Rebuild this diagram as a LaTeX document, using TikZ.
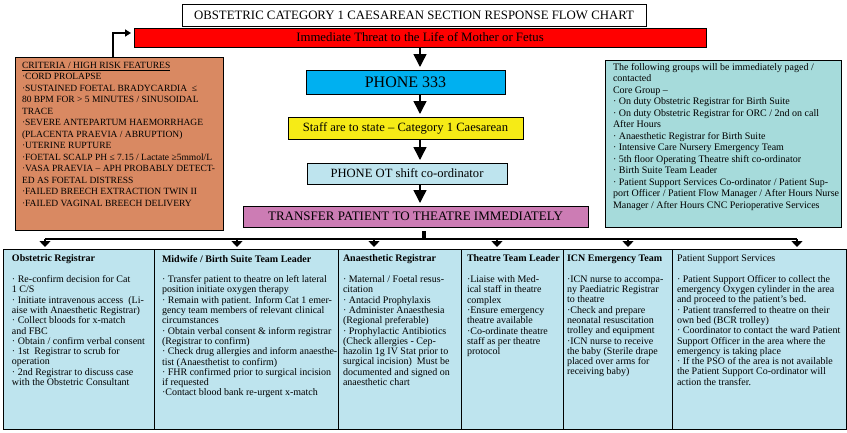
\documentclass[tikz,border=0pt]{standalone}
\usepackage{fontspec}
\setmainfont{Liberation Serif}
\usetikzlibrary{arrows.meta}
\definecolor{orangebox}{RGB}{217,137,98}
\definecolor{tealbox}{RGB}{166,219,219}
\definecolor{colblue}{RGB}{190,228,238}
\definecolor{phoneblue}{RGB}{0,176,240}
\definecolor{yellowbox}{RGB}{246,235,22}
\definecolor{pinkbox}{RGB}{204,124,180}
\definecolor{redbox}{RGB}{255,0,0}
\begin{document}
\begin{tikzpicture}[x=1pt,y=-1pt,
  box/.style={draw=black, line width=0.8pt, inner sep=0pt, outer sep=0pt, anchor=north west},
  txt/.style={inner sep=0pt, outer sep=0pt, anchor=north west, align=left},
  colfont/.style={font=\fontsize{10}{10.3}\selectfont},
  tealfont/.style={font=\fontsize{10}{11.5}\selectfont},
  arrbig/.style={line width=1.5pt, -{Triangle[width=13pt,length=13pt]}, shorten >=3pt},
  arrsmall/.style={line width=1.3pt, -{Triangle[width=11pt,length=6pt]}, shorten >=2pt},
  busline/.style={line width=1.3pt},
  stubline/.style={line width=4.5pt, shorten <=4pt}
]
\useasboundingbox (0,0) rectangle (847,432);
\fill[white] (0,0) rectangle (847,432);

% top boxes
\node[box, fill=white, minimum width=464pt, minimum height=22pt, font=\fontsize{12.8}{14}\selectfont] (title) at (182,4) {OBSTETRIC CATEGORY 1 CAESAREAN SECTION RESPONSE FLOW CHART};
\node[box, fill=redbox, minimum width=572pt, minimum height=19pt, font=\fontsize{12.8}{14}\selectfont] (red) at (134,28) {Immediate Threat to the Life of Mother or Fetus};

% centre chain
\node[box, fill=phoneblue, minimum width=199pt, minimum height=24pt, font=\fontsize{16}{18}\selectfont] (phone) at (306,70) {PHONE 333};
\node[box, fill=yellowbox, minimum width=235pt, minimum height=22pt, font=\fontsize{12.6}{14}\selectfont] (staff) at (288,117) {Staff are to state – Category 1 Caesarean};
\node[box, fill=colblue, minimum width=200pt, minimum height=21pt, font=\fontsize{12.6}{14}\selectfont] (ot) at (307,163) {PHONE OT shift co-ordinator};
\node[box, fill=pinkbox, minimum width=345pt, minimum height=21pt, font=\fontsize{13}{15}\selectfont] (transfer) at (243,206) {TRANSFER PATIENT TO THEATRE IMMEDIATELY};

% side boxes
\node[box, fill=orangebox, minimum width=208pt, minimum height=173pt] (orange) at (15,57) {};
\node[txt, font=\fontsize{9.5}{11.5}\selectfont] (orangetxt) at (22,62) {\underline{CRITERIA / HIGH RISK FEATURES}\\
·CORD PROLAPSE\\
·SUSTAINED FOETAL BRADYCARDIA \ ≤\\
80 BPM FOR > 5 MINUTES / SINUSOIDAL\\
TRACE\\
·SEVERE ANTEPARTUM HAEMORRHAGE\\
(PLACENTA PRAEVIA / ABRUPTION)\\
·UTERINE RUPTURE\\
·FOETAL SCALP PH ≤ 7.15 / Lactate ≥5mmol/L\\
·VASA PRAEVIA – APH PROBABLY DETECT-\\
ED AS FOETAL DISTRESS\\
·FAILED BREECH EXTRACTION TWIN II\\
·FAILED VAGINAL BREECH DELIVERY};

\node[box, fill=tealbox, minimum width=236pt, minimum height=167pt] (teal) at (605,60) {};
\node[txt, tealfont] (tealtxt) at (613,63) {The following groups will be immediately paged /\\
contacted\\
Core Group –\\
· On duty Obstetric Registrar for Birth Suite\\
· On duty Obstetric Registrar for ORC / 2nd on call\\
After Hours\\
· Anaesthetic Registrar for Birth Suite\\
· Intensive Care Nursery Emergency Team\\
· 5th floor Operating Theatre shift co-ordinator\\
· Birth Suite Team Leader\\
· Patient Support Services Co-ordinator / Patient Sup-\\
port Officer / Patient Flow Manager / After Hours Nurse\\
Manager / After Hours CNC Perioperative Services};

% columns
\node[box, fill=colblue, minimum width=151pt, minimum height=180pt] (col1) at (3,249) {};
\node[box, fill=colblue, minimum width=184pt, minimum height=180pt] (col2) at (154,249) {};
\node[box, fill=colblue, minimum width=123pt, minimum height=180pt] (col3) at (338,249) {};
\node[box, fill=colblue, minimum width=102pt, minimum height=180pt] (col4) at (461,249) {};
\node[box, fill=colblue, minimum width=109pt, minimum height=180pt] (col5) at (563,249) {};
\node[box, fill=colblue, minimum width=174pt, minimum height=180pt] (col6) at (672,249) {};

\node[txt, colfont] (col1txt) at (12,255) {\textbf{Obstetric Registrar}\\[10.3pt]
· Re-confirm decision for Cat\\
1 C/S\\
· Initiate intravenous access \ (Li-\\
aise with Anaesthetic Registrar)\\
· Collect bloods for x-match\\
and FBC\\
· Obtain / confirm verbal consent\\
· 1st \ Registrar to scrub for\\
operation\\
· 2nd Registrar to discuss case\\
with the Obstetric Consultant};

\node[txt, colfont] (col2txt) at (162,255) {\textbf{Midwife / Birth Suite Team Leader}\\[10.3pt]
· Transfer patient to theatre on left lateral\\
position initiate oxygen therapy\\
· Remain with patient. Inform Cat 1 emer-\\
gency team members of relevant clinical\\
circumstances\\
· Obtain verbal consent \& inform registrar\\
(Registrar to confirm)\\
· Check drug allergies and inform anaesthe-\\
tist (Anaesthetist to confirm)\\
· FHR confirmed prior to surgical incision\\
if requested\\
·Contact blood bank re-urgent x-match};

\node[txt, colfont] (col3txt) at (343,255) {\textbf{Anaesthetic Registrar}\\[10.3pt]
· Maternal / Foetal resus-\\
citation\\
· Antacid Prophylaxis\\
· Administer Anaesthesia\\
(Regional preferable)\\
· Prophylactic Antibiotics\\
(Check allergies - Cep-\\
hazolin 1g IV Stat prior to\\
surgical incision) \ Must be\\
documented and signed on\\
anaesthetic chart};

\node[txt, colfont] (col4txt) at (467,255) {\textbf{Theatre Team Leader}\\[10.3pt]
·Liaise with Med-\\
ical staff in theatre\\
complex\\
·Ensure emergency\\
theatre available\\
·Co-ordinate theatre\\
staff as per theatre\\
protocol};

\node[txt, colfont] (col5txt) at (567,255) {\textbf{ICN Emergency Team}\\[10.3pt]
·ICN nurse to accompa-\\
ny Paediatric Registrar\\
to theatre\\
·Check and prepare\\
neonatal resuscitation\\
trolley and equipment\\
·ICN nurse to receive\\
the baby (Sterile drape\\
placed over arms for\\
receiving baby)};

\node[txt, colfont] (col6txt) at (677,255) {Patient Support Services\\[10.3pt]
· Patient Support Officer to collect the\\
emergency Oxygen cylinder in the area\\
and proceed to the patient’s bed.\\
· Patient transferred to theatre on their\\
own bed (BCR trolley)\\
· Coordinator to contact the ward Patient\\
Support Officer in the area where the\\
emergency is taking place\\
· If the PSO of the area is not available\\
the Patient Support Co-ordinator will\\
action the transfer.};

% centre arrows
\coordinate (ax) at (420,0);
\draw[arrbig] (red.south -| ax) -- (phone.north -| ax);
\draw[arrbig] (phone.south -| ax) -- (staff.north -| ax);
\draw[arrbig] (staff.south -| ax) -- (ot.north -| ax);
\draw[arrbig] (ot.south -| ax) -- (transfer.north -| ax);

% criteria arrow
\coordinate (lk) at (113,33);
\draw[line width=1.5pt, -{Triangle[width=7pt,length=6pt]}, shorten >=3pt] (orange.north -| lk) -- (lk) -- (lk -| red.west);

% distribution bus
\coordinate (bm) at (424,239);
\coordinate (b1) at (45,239);
\coordinate (b2) at (237,239);
\coordinate (b3) at (374,239);
\coordinate (b4) at (497,239);
\coordinate (b5) at (628,239);
\coordinate (b6) at (797,239);
\draw[stubline] (bm |- transfer.south) -- (bm);
\draw[busline] (b1) -- (b6);
\draw[arrsmall] (b1) -- (b1 |- col1.north);
\draw[arrsmall] (b2) -- (b2 |- col2.north);
\draw[arrsmall] (b3) -- (b3 |- col3.north);
\draw[arrsmall] (b4) -- (b4 |- col4.north);
\draw[arrsmall] (b5) -- (b5 |- col5.north);
\draw[arrsmall] (b6) -- (b6 |- col6.north);
\end{tikzpicture}
\end{document}
